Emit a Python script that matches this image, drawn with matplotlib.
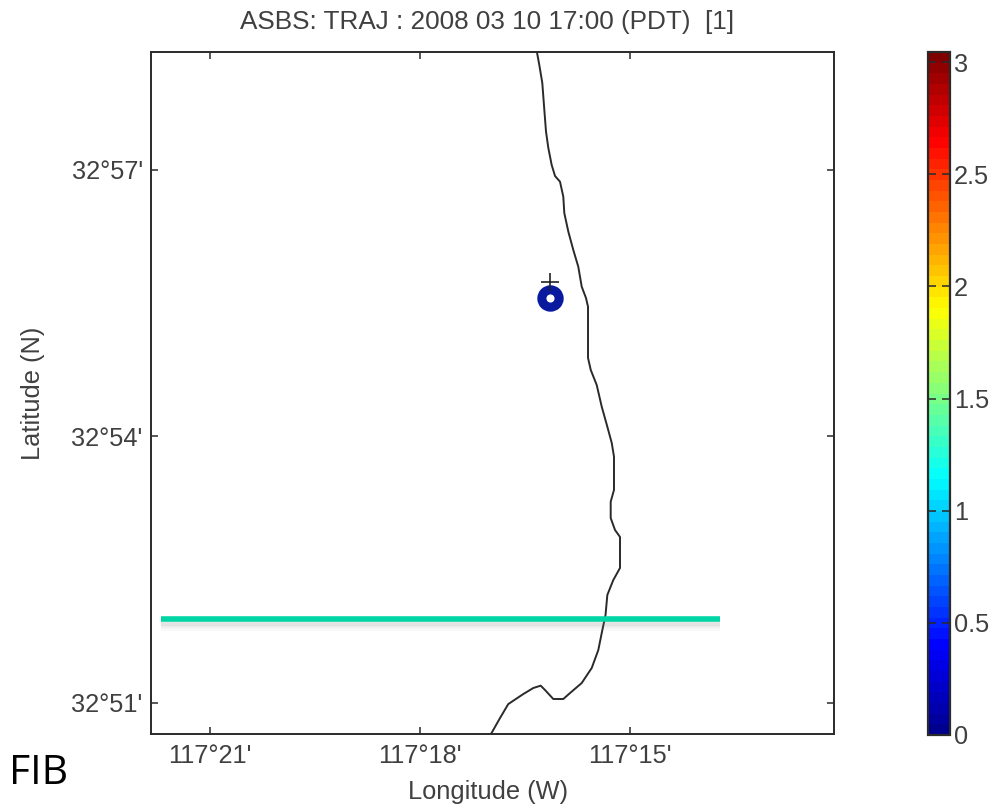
import numpy as np
import matplotlib
matplotlib.use('Agg')
import matplotlib.pyplot as plt
from matplotlib.cm import ScalarMappable
from matplotlib.colors import Normalize, LinearSegmentedColormap

plt.rcParams['font.family'] = ['Liberation Sans', 'DejaVu Sans']

# coastline, minutes west of 117 deg / minutes north of 32 deg
coast_lon_min = [16.33, 16.296, 16.253, 16.224, 16.2, 16.167, 16.119, 16.071, 16.0, 15.953, 15.939,
                 15.881, 15.81, 15.739, 15.69, 15.629, 15.6, 15.6, 15.6, 15.561, 15.476, 15.404,
                 15.324, 15.261, 15.229, 15.229, 15.276, 15.276, 15.214, 15.143, 15.143, 15.239,
                 15.324, 15.35, 15.404, 15.453, 15.547, 15.69, 15.857, 15.953, 16.096, 16.214,
                 16.276, 16.381, 16.524, 16.739, 16.857, 16.986]
coast_lat_min = [58.328, 58.182, 57.979, 57.675, 57.431, 57.248, 57.056, 56.932, 56.868, 56.699, 56.516,
                 56.305, 56.099, 55.911, 55.686, 55.559, 55.461, 55.311, 54.884, 54.749, 54.58, 54.335,
                 54.11, 53.927, 53.773, 53.398, 53.266, 53.082, 52.947, 52.869, 52.52, 52.384,
                 52.216, 51.99, 51.788, 51.596, 51.394, 51.225, 51.112, 51.045, 51.045, 51.146,
                 51.195, 51.169, 51.101, 50.988, 50.831, 50.651]

# release point and particle position
plus_lon_min = 16.143
plus_lat_min = 55.743
traj_lon_min = 16.143
traj_lat_min = 55.559

# teal line added over the figure
teal_lon_min = [21.7, 13.714]
teal_lat_min = [51.948, 51.948]

x_ticks_min = [21, 18, 15]
x_tick_labels = ["117°21'", "117°18'", "117°15'"]
y_ticks_min = [51, 54, 57]
y_tick_labels = ["32°51'", "32°54'", "32°57'"]
cbar_ticks = [0, 0.5, 1, 1.5, 2, 2.5, 3]
cbar_labels = ['0', '0.5', '1', '1.5', '2', '2.5', '3']

texto = '#404040'
borde = '#2a2a2a'
tam = 18.3
W, H = 1005, 807

fig = plt.figure(figsize=(W / 100, H / 100), dpi=100)
ax = fig.add_axes([151 / W, 1 - 734 / H, (834 - 151) / W, (734 - 52) / H])

ax.plot(coast_lon_min, coast_lat_min, color='#2a2a2a', lw=1.4)
ax.plot(traj_lon_min, traj_lat_min, 'o', ms=12.5, mfc='white', mec='#0a1a9e', mew=6.5, zorder=3)
ax.plot(plus_lon_min, plus_lat_min, '+', ms=13, color='#222222', mew=1.2, zorder=4)

# soft shadow under the line
for d, a in [(0.10, 0.05), (0.075, 0.08), (0.05, 0.12)]:
    ax.plot(teal_lon_min, [v - d for v in teal_lat_min], color='#777777', lw=4, alpha=a,
            solid_capstyle='butt', clip_on=False, zorder=4)
ax.plot(teal_lon_min, teal_lat_min, color='#00d5a5', lw=4, solid_capstyle='butt', clip_on=False, zorder=5)

ax.set_xlim(21.843, 12.086)
ax.set_ylim(50.651, 58.328)
ax.set_xticks(x_ticks_min)
ax.set_xticklabels(x_tick_labels)
ax.set_yticks(y_ticks_min)
ax.set_yticklabels(y_tick_labels)
ax.tick_params(direction='in', top=True, right=True, length=5, width=1.1, color=borde,
               labelsize=tam, labelcolor=texto)
ax.tick_params(axis='y', pad=6)
ax.tick_params(axis='x', pad=7)
for s in ax.spines.values():
    s.set_linewidth(1.4)
    s.set_color(borde)

fig.text(487.5 / W, 1 - 22 / H, 'ASBS: TRAJ : 2008 03 10 17:00 (PDT)  [1]', ha='center', va='center',
         fontsize=18.85, color=texto)
fig.text(488 / W, 1 - 792 / H, 'Longitude (W)', ha='center', va='center', fontsize=tam, color=texto)
fig.text(33 / W, 1 - 393 / H, 'Latitude (N)', ha='center', va='center', rotation=90, fontsize=tam,
         color=texto)
fig.text(9 / W, 1 - 773.5 / H, 'FIB', ha='left', va='center', fontsize=29.5, color='black',
         family=['Open Sans', 'DejaVu Sans'])

# colorbar, 64 step MATLAB jet
jet_matlab = LinearSegmentedColormap.from_list('jet_matlab', [
    (0, (0, 0, 0.5625)), (0.125, (0, 0, 1)), (0.375, (0, 1, 1)),
    (0.625, (1, 1, 0)), (0.875, (1, 0, 0)), (1, (0.5, 0, 0))], N=64)
cax = fig.add_axes([928 / W, 1 - 735 / H, 22 / W, (735 - 52) / H])
sm = ScalarMappable(norm=Normalize(0, 3.045), cmap=jet_matlab)
cb = fig.colorbar(sm, cax=cax)
cb.set_ticks(cbar_ticks)
cb.set_ticklabels(cbar_labels)
cax.tick_params(direction='in', left=True, right=True, length=5.5, width=1.1, color=borde,
                labelsize=tam, labelcolor=texto, pad=3)
cb.outline.set_linewidth(1.6)
cb.outline.set_edgecolor(borde)

fig.savefig('out.png', dpi=100)
